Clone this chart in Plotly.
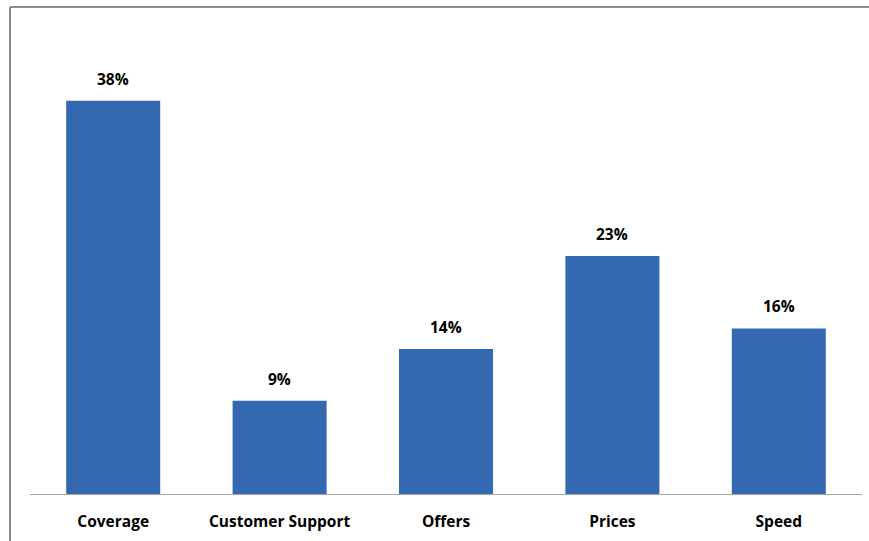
import plotly.graph_objects as go

categories = ["Coverage", "Customer Support", "Offers", "Prices", "Speed"]
shares = [38, 9, 14, 23, 16]
value_labels = ["38%", "9%", "14%", "23%", "16%"]

W, H = 869, 541
M_L, M_R, M_T, M_B = 30, 7, 80, 47
plot_w = W - M_L - M_R
plot_h = H - M_T - M_B
FONT = "Open Sans, Lato, sans-serif"


def px_to_paper_x(px):
    return (px - M_L) / plot_w


def px_to_paper_y(py):
    return (H - M_B - py) / plot_h


fig = go.Figure()
fig.add_trace(go.Bar(
    x=categories,
    y=shares,
    marker=dict(color="#3469B1", line=dict(width=0)),
    hoverinfo="skip",
))

# value labels above each bar
for cat, val, lab in zip(categories, shares, value_labels):
    fig.add_annotation(
        x=cat, y=val, text=f"<b>{lab}</b>", showarrow=False,
        yanchor="bottom", yshift=9,
        font=dict(family=FONT, size=15.5, color="#000000"),
    )

# chart frame (left and top edges visible)
frame = dict(color="#8C8C8C", width=2)
fig.add_shape(type="line", xref="paper", yref="paper",
              x0=px_to_paper_x(10), x1=px_to_paper_x(10),
              y0=px_to_paper_y(7), y1=px_to_paper_y(560), line=frame)
fig.add_shape(type="line", xref="paper", yref="paper",
              x0=px_to_paper_x(10), x1=px_to_paper_x(900),
              y0=px_to_paper_y(7), y1=px_to_paper_y(7), line=frame)

fig.update_layout(
    width=W, height=H,
    margin=dict(l=M_L, r=M_R, t=M_T, b=M_B, pad=0),
    paper_bgcolor="white", plot_bgcolor="white",
    bargap=0.435,
    showlegend=False,
    xaxis=dict(
        showline=True, linecolor="#A6A6A6", linewidth=1,
        ticks="outside", ticklen=13, tickcolor="rgba(0,0,0,0)",
        tickfont=dict(family=FONT, size=15.5, color="#000000", weight="bold"),
        showgrid=False, zeroline=False, fixedrange=True,
    ),
    yaxis=dict(
        range=[0, 40], visible=False, showgrid=False, zeroline=False, fixedrange=True,
    ),
)

fig.write_html("out.html", config={"displayModeBar": False})
